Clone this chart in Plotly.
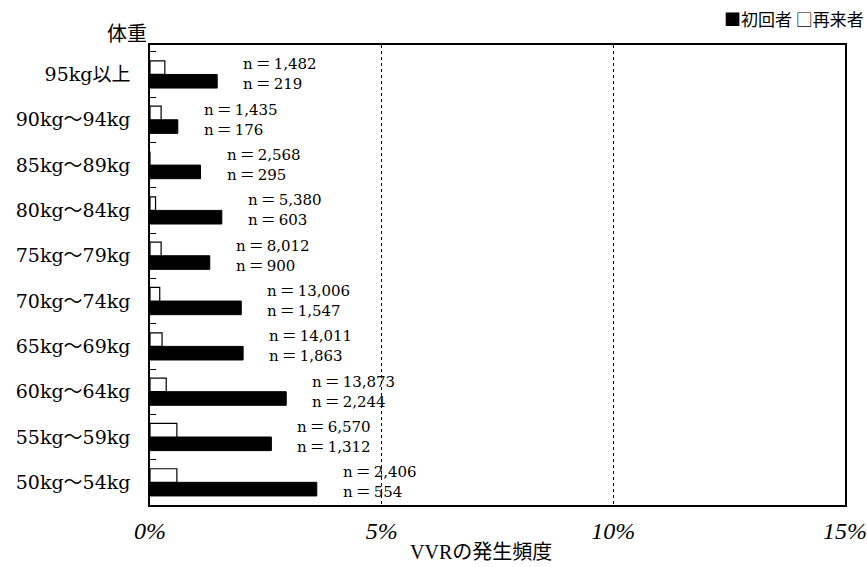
import plotly.graph_objects as go

categories = ["50kg～54kg", "55kg～59kg", "60kg～64kg", "65kg～69kg", "70kg～74kg",
              "75kg～79kg", "80kg～84kg", "85kg～89kg", "90kg～94kg", "95kg以上"]
first_time = [3.60, 2.62, 2.94, 2.01, 1.97, 1.29, 1.55, 1.09, 0.60, 1.45]
repeat = [0.58, 0.58, 0.35, 0.26, 0.21, 0.24, 0.12, 0.0, 0.24, 0.32]
n_first = ["2,406", "6,570", "13,873", "14,011", "13,006", "8,012", "5,380", "2,568", "1,435", "1,482"]
n_repeat = ["554", "1,312", "2,244", "1,863", "1,547", "900", "603", "295", "176", "219"]
x_ticks = [0, 5, 10, 15]
x_tick_labels = ["0%", "5%", "10%", "15%"]

SERIF = "DejaVu Serif, Noto Sans CJK JP, serif"
TIMES = "Liberation Serif, Noto Sans CJK JP, serif"
SANS = "Noto Sans CJK JP, sans-serif"

L, R, T, B = 150, 22, 45, 62
PW, PH = 867 - L - R, 567 - T - B

fig = go.Figure()
fig.add_trace(go.Bar(y=categories, x=first_time, orientation="h", name="初回者",
                     marker=dict(color="black", line=dict(color="black", width=1))))
fig.add_trace(go.Bar(y=categories, x=repeat, orientation="h", name="再来者",
                     marker=dict(color="white", line=dict(color="black", width=1.2))))

anns = []
for c, v, a, b in zip(categories, first_time, n_first, n_repeat):
    anns.append(dict(x=v, y=c, xref="x", yref="y", xanchor="left", yanchor="middle",
                     xshift=24, text=f"n\u2009＝\u2009{a}<br>n\u2009＝\u2009{b}",
                     showarrow=False, align="left",
                     font=dict(family=SERIF, size=15, color="black")))

anns += [
    dict(x=-23 / PW, y=1 + 13 / PH, xref="paper", yref="paper", xanchor="center",
         yanchor="middle", text="体重", showarrow=False,
         font=dict(family=SANS, size=20, color="black")),
    dict(x=1 + 21 / PW, y=1 + 27 / PH, xref="paper", yref="paper", xanchor="right",
         yanchor="middle", text="■初回者 □再来者", showarrow=False,
         font=dict(family=SANS, size=17, color="black")),
    dict(x=(481 - L) / PW, y=-47 / PH, xref="paper", yref="paper", xanchor="center",
         yanchor="middle", text="VVRの発生頻度", showarrow=False,
         font=dict(family=TIMES, size=20, color="black")),
]

fig.update_layout(
    width=867, height=567,
    margin=dict(l=L, r=R, t=T, b=B, autoexpand=False),
    paper_bgcolor="white", plot_bgcolor="white",
    barmode="group", bargap=0.4, bargroupgap=0.0,
    showlegend=False,
    annotations=anns,
    xaxis=dict(range=[0, 15], tickvals=x_ticks, ticktext=x_tick_labels, automargin=False,
               showgrid=True, gridcolor="black", griddash="dot", gridwidth=1,
               showline=True, mirror=True, linecolor="black", linewidth=1.5,
               ticks="", zeroline=False, ticklabelstandoff=3,
               tickfont=dict(family=TIMES, size=24, color="black", style="italic")),
    yaxis=dict(range=[-0.5, 9.65], categoryorder="array", categoryarray=categories,
               automargin=False,
               showline=True, mirror=True, linecolor="black", linewidth=1.5,
               ticks="inside", ticklen=6, tickson="boundaries", tickcolor="black",
               showgrid=False, ticklabelstandoff=14,
               tickfont=dict(family=SERIF, size=19, color="black")),
)
fig.write_html("out.html", config={"displayModeBar": False},
               post_script="document.body.style.margin='0';")
